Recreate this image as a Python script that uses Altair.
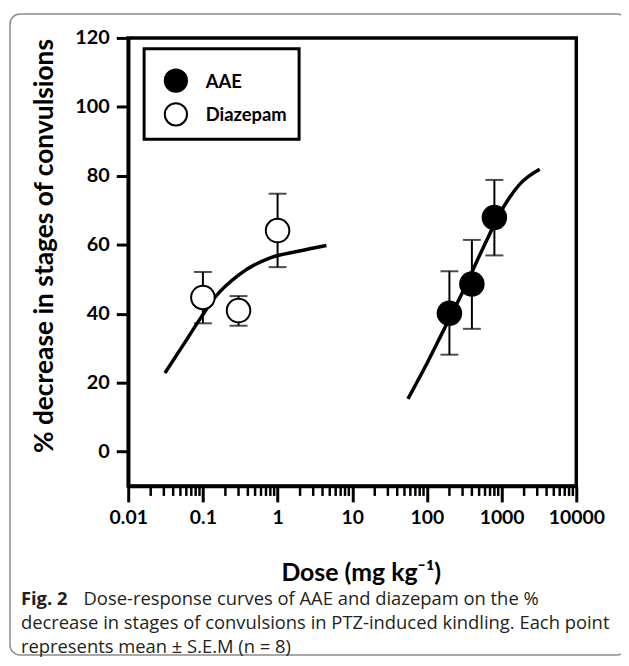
import altair as alt
import pandas as pd

# ---------------- data ----------------
series = ["AAE", "Diazepam"]
series_fill = ["black", "white"]

aae_dose = [200, 400, 800]
aae_mean = [40.1, 48.6, 67.9]
aae_low = [28.1, 35.6, 56.9]
aae_high = [52.3, 61.4, 78.8]

dzp_dose = [0.1, 0.3, 1]
dzp_mean = [44.7, 40.9, 64.1]
dzp_low = [37.2, 36.5, 53.5]
dzp_high = [52.1, 45.1, 74.8]

aae_curve_dose = [55.7, 100.7, 168, 309, 571, 1052, 1755, 3236]
aae_curve_pct = [15.3, 25.7, 35.3, 46.8, 59.3, 70.8, 77.6, 81.9]
dzp_curve_dose = [0.031, 0.053, 0.093, 0.147, 0.30, 0.75, 1.88, 4.5]
dzp_curve_pct = [22.8, 30.5, 38.7, 44.9, 51.2, 56.0, 58.1, 59.8]

x_major = [0.01, 0.1, 1, 10, 100, 1000, 10000]
x_minor = [m * d for d in [0.01, 0.1, 1, 10, 100, 1000] for m in range(2, 10)]
y_major = [0, 20, 40, 60, 80, 100, 120]

y_title = "% decrease in stages of convulsions"
x_title = "Dose (mg kg\u207b\u00b9)"
caption_bold = "Fig. 2"
caption_1 = "Dose-response curves of AAE and diazepam on the %"
caption_2 = "decrease in stages of convulsions in PTZ-induced kindling. Each point"
caption_3 = "represents mean \u00b1 S.E.M (n = 8)"

# ---------------- tables ----------------
pts = pd.DataFrame({
    "series": ["AAE"] * 3 + ["Diazepam"] * 3,
    "dose": aae_dose + dzp_dose,
    "mean": aae_mean + dzp_mean,
    "low": aae_low + dzp_low,
    "high": aae_high + dzp_high,
})
curve = pd.DataFrame({
    "series": ["AAE"] * len(aae_curve_dose) + ["Diazepam"] * len(dzp_curve_dose),
    "dose": aae_curve_dose + dzp_curve_dose,
    "pct": aae_curve_pct + dzp_curve_pct,
})
minor_df = pd.DataFrame({"dose": x_minor})

AX_FONT = "Lato"
xscale = alt.Scale(type="log", domain=[0.01, 10000])
yscale = alt.Scale(domain=[-10, 120], nice=False, zero=False)
fill_scale = alt.Scale(domain=series, range=series_fill)

xaxis = alt.Axis(
    values=x_major, format="~g", grid=False,
    tickSize=16, tickWidth=3, tickColor="black",
    domainWidth=3.5, domainColor="black",
    labelFont=AX_FONT, labelFontWeight="bold", labelFontSize=19.5, labelColor="black",
    labelPadding=22, labelBaseline="alphabetic", labelFlush=False, labelOverlap=False,
    title=x_title, titleFont=AX_FONT, titleFontSize=25, titleFontWeight="bold",
    titleColor="black", titleX=234, titleY=95, titleBaseline="alphabetic",
)
yaxis = alt.Axis(
    values=y_major, grid=False,
    tickSize=12, tickWidth=3, tickColor="black",
    domainWidth=3.5, domainColor="black",
    labelFont=AX_FONT, labelFontWeight="bold", labelFontSize=20, labelColor="black",
    labelPadding=7,
    title=y_title, titleFont=AX_FONT, titleFontSize=26.5, titleFontWeight="bold",
    titleColor="black", titleAngle=270, titleX=-76, titleY=209,
    titleBaseline="alphabetic", titleAlign="center",
)


def X(field):
    return alt.X(field, type="quantitative", scale=xscale, axis=xaxis)


def Y(field):
    return alt.Y(field, type="quantitative", scale=yscale, axis=yaxis)


one = pd.DataFrame({"a": [0]})

border = alt.Chart(one).mark_rect(
    fillOpacity=0, stroke="#8c8c8c", strokeWidth=1.5, cornerRadius=10
).encode(x=alt.value(-119), x2=alt.value(502), y=alt.value(-24), y2=alt.value(621))

legend_box = alt.Chart(one).mark_rect(
    fillOpacity=0, stroke="black", strokeWidth=3
).encode(x=alt.value(16), x2=alt.value(172), y=alt.value(11), y2=alt.value(102))

minor_ticks = alt.Chart(minor_df).mark_rule(color="black", strokeWidth=2.5).encode(
    x=X("dose"), y=alt.value(451), y2=alt.value(461)
)

errbars = alt.Chart(pts).mark_errorbar(
    ticks=True, size=18, thickness=2, color="black"
).encode(x=X("dose"), y=Y("low"), y2="high")

lines = alt.Chart(curve).mark_line(
    color="black", strokeWidth=3.5, interpolate="monotone"
).encode(x=X("dose"), y=Y("pct"), detail="series:N")

points = alt.Chart(pts).mark_point(
    shape="circle", filled=True, size=560, stroke="black", strokeWidth=2,
    opacity=1, fillOpacity=1
).encode(
    x=X("dose"), y=Y("mean"),
    fill=alt.Fill("series:N", scale=fill_scale, legend=None),
)

legend_layers = []
for i, s in enumerate(series):
    d = pd.DataFrame({"series": [s]})
    legend_layers.append(
        alt.Chart(d).mark_point(
            shape="circle", filled=True, size=500, stroke="black", strokeWidth=2,
            opacity=1, fillOpacity=1
        ).encode(
            x=alt.value(48), y=alt.value(43 + 34 * i),
            fill=alt.Fill("series:N", scale=fill_scale, legend=None),
        )
    )
    legend_layers.append(
        alt.Chart(d).mark_text(
            align="left", baseline="middle", font=AX_FONT, fontWeight="bold",
            fontSize=18.5, color="black"
        ).encode(x=alt.value(78), y=alt.value(44 + 34 * i), text="series:N")
    )


def cap(text, x, y, bold=False):
    return alt.Chart(pd.DataFrame({"t": [text]})).mark_text(
        align="left", baseline="alphabetic", font="Open Sans",
        fontWeight="bold" if bold else "normal", fontSize=18.5, color="#231f20"
    ).encode(x=alt.value(x), y=alt.value(y), text="t:N")


captions = [
    cap(caption_bold, -108, 571, bold=True),
    cap(caption_1, -45, 571),
    cap(caption_2, -108, 595),
    cap(caption_3, -108, 619),
]

chart = alt.layer(
    border, legend_box, minor_ticks, errbars, lines, points,
    *legend_layers, *captions
).properties(
    width=451, height=451, background="white",
    autosize=alt.AutoSizeParams(type="none"),
    padding={"left": 121, "top": 28, "right": 45, "bottom": 171},
).configure_view(
    stroke="black", strokeWidth=3.5
)

chart.save("out.html", embed_options={"renderer": "svg", "actions": False})
